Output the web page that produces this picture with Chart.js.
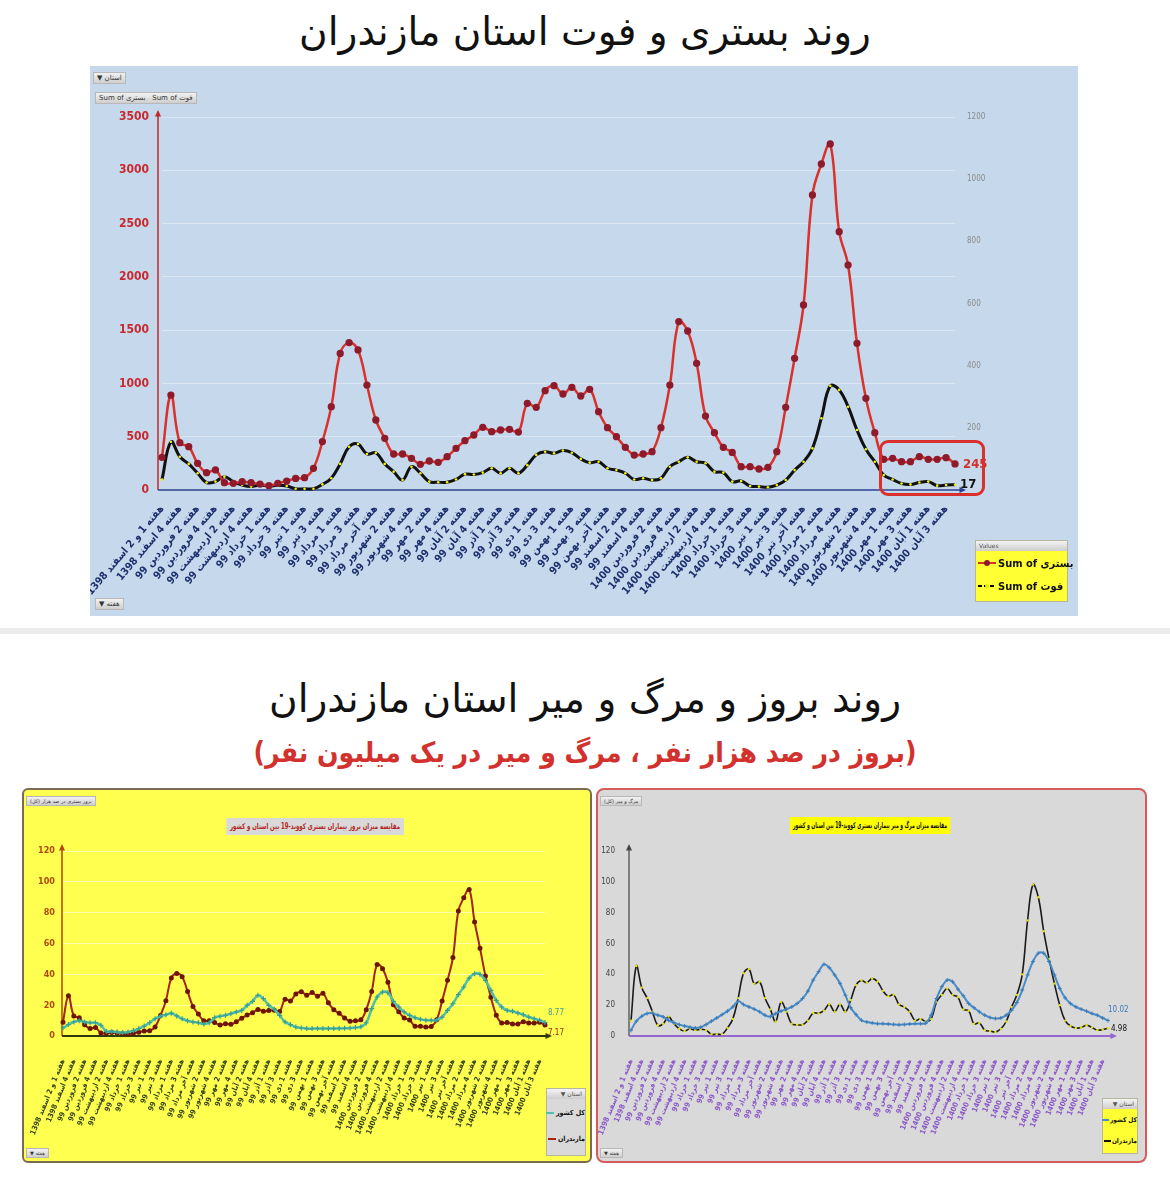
<!DOCTYPE html>
<html lang="fa">
<head>
<meta charset="utf-8">
<title>روند بستری و فوت استان مازندران</title>
<script src="https://cdn.jsdelivr.net/npm/chart.js@4.4.1/dist/chart.umd.min.js"></script>
<style>
  body { margin:0; background:#fff; width:1170px; height:1184px; position:relative; overflow:hidden; font-family:"DejaVu Sans", sans-serif; }
  .abs { position:absolute; }
  .title { position:absolute; left:0; width:1170px; text-align:center; direction:rtl; white-space:nowrap; }
  #t1 { top:9px; font-size:39px; color:#111; }
  #t2 { top:676px; font-size:39px; color:#111; }
  #t3 { top:736px; font-size:28px; font-weight:bold; color:#d2312d; font-family:"DejaVu Sans Condensed","DejaVu Sans"; }
  #sep { left:0; top:628px; width:1170px; height:6px; background:#ececec; }
  #panelTop { left:90px; top:66px; width:988px; height:550px; background:#c6d9ec; }
  #panelL { left:22px; top:788px; width:570px; height:375px; background:#ffff50; border:2px solid #7d6a52; border-radius:6px; box-sizing:border-box; }
  #panelR { left:596px; top:788px; width:551px; height:375px; background:#d9d9d9; border:2px solid #d45c5c; border-radius:8px; box-sizing:border-box; }
  canvas { position:absolute; }
  .btn { position:absolute; background:linear-gradient(#f2f2f2,#cfcfcf); border:1px solid #b8b8b8; color:#333; font-size:7px; line-height:10px; padding:0 3px; white-space:nowrap; direction:rtl; }
  .ctitle { position:absolute; white-space:nowrap; direction:rtl; font:bold 8px "DejaVu Sans Condensed","DejaVu Sans"; padding:4px 5px; }
  .leg { position:absolute; border:1px solid #b5b5a0; }
  .leg .hd { height:10px; background:linear-gradient(#f4f4f4,#cdcdcd); font-size:6px; color:#555; line-height:10px; padding:0 3px; }
  .item { display:flex; align-items:center; white-space:nowrap; font:bold 11px "DejaVu Sans Condensed","DejaVu Sans"; color:#111; }
  .mk { width:18px; height:2px; position:relative; margin-right:2px; flex:none; }
  .mk i { position:absolute; left:6px; top:-2px; width:6px; height:6px; border-radius:50%; }
</style>
</head>
<body>

<div id="t1" class="title">روند بستری و فوت استان مازندران</div>
<div id="panelTop" class="abs"></div>
<div class="btn" style="left:93px;top:72px;">استان ▼</div>
<div class="btn" style="left:95px;top:92px;direction:ltr;">Sum of بستری &nbsp; Sum of فوت</div>
<div class="btn" style="left:95px;top:598px;">هفته ▼</div>
<canvas id="chartTop" width="988" height="550" style="left:90px;top:66px;"></canvas>
<div class="abs" style="left:879px;top:440px;width:106px;height:56px;border:3px solid #d9302c;border-radius:9px;box-sizing:border-box;"></div>
<div class="leg" style="left:975px;top:540px;width:91px;height:60px;background:#ffff33;">
  <div class="hd">Values</div>
  <div class="item" style="height:24px;direction:ltr;padding-left:2px;"><span class="mk" style="background:#d9312b;"><i style="background:#8e1b2c;"></i></span>Sum of بستری</div>
  <div class="item" style="height:22px;direction:ltr;padding-left:2px;"><span class="mk" style="background:repeating-linear-gradient(90deg,#000 0 4px,transparent 4px 6px);"><i style="background:#e8e800;width:4px;height:4px;top:-1px;left:7px;"></i></span>Sum of فوت</div>
</div>

<div id="sep" class="abs"></div>
<div id="t2" class="title">روند بروز و مرگ و میر استان مازندران</div>
<div id="t3" class="title">(بروز در صد هزار نفر ، مرگ و میر در یک میلیون نفر)</div>

<div id="panelL" class="abs"></div>
<div class="btn" style="left:26px;top:796px;font-size:5px;line-height:8px;">بروز بستری در صد هزار (کل)</div>
<div class="btn" style="left:26px;top:1148px;font-size:5px;line-height:8px;">هفته ▼</div>
<div class="ctitle" style="left:315px;top:818px;background:#d9d9d9;color:#b3261e;transform:translateX(-50%) scaleX(0.75);">مقایسه میزان بروز بیماران بستری کووید-19 بین استان و کشور</div>
<canvas id="chartL" width="566" height="371" style="left:24px;top:790px;"></canvas>
<div class="leg" style="left:546px;top:1088px;width:38px;height:66px;background:#d9d9d9;">
  <div class="hd" style="direction:rtl;">استان ▼</div>
  <div class="item" style="height:27px;direction:rtl;font-size:7px;">کل کشور<span class="mk" style="width:8px;background:#4fbfae;margin:0 2px 0 0;"></span></div>
  <div class="item" style="height:25px;direction:rtl;font-size:7px;">مازندران<span class="mk" style="width:8px;background:#a3240f;margin:0 2px 0 0;"></span></div>
</div>

<div id="panelR" class="abs"></div>
<div class="btn" style="left:600px;top:796px;font-size:5px;line-height:8px;">مرگ و میر (کل)</div>
<div class="btn" style="left:600px;top:1148px;font-size:5px;line-height:8px;">هفته ▼</div>
<div class="ctitle" style="left:870px;top:817px;background:#ffff00;color:#111;transform:translateX(-50%) scaleX(0.62);">مقایسه میزان مرگ و میر بیماران بستری کووید-19 بین استان و کشور</div>
<canvas id="chartR" width="547" height="371" style="left:598px;top:790px;"></canvas>
<div class="leg" style="left:1102px;top:1098px;width:34px;height:54px;background:#ffff33;">
  <div class="hd" style="direction:rtl;">استان ▼</div>
  <div class="item" style="height:22px;direction:rtl;font-size:6.5px;">کل کشور<span class="mk" style="width:7px;background:#4a8cc8;margin:0 1px 0 0;"></span></div>
  <div class="item" style="height:20px;direction:rtl;font-size:6.5px;">مازندران<span class="mk" style="width:7px;background:#111;margin:0 1px 0 0;"></span></div>
</div>

<script>
// weeks (only every other one is printed on the axis)
const weeks = [
  "هفته 1 و 2 اسفند 1398", "هفته 3 اسفند 1398", "هفته 4 اسفند 1398", "هفته 1 فروردین 99", "هفته 2 فروردین 99",
  "هفته 3 فروردین 99", "هفته 4 فروردین 99", "هفته 1 اردیبهشت 99", "هفته 2 اردیبهشت 99", "هفته 3 اردیبهشت 99",
  "هفته 4 اردیبهشت 99", "هفته آخر اردیبهشت 99", "هفته 1 خرداد 99", "هفته 2 خرداد 99", "هفته 3 خرداد 99",
  "هفته 4 خرداد 99", "هفته 1 تیر 99", "هفته 2 تیر 99", "هفته 3 تیر 99", "هفته 4 تیر 99",
  "هفته 1 مرداد 99", "هفته 2 مرداد 99", "هفته 3 مرداد 99", "هفته 4 مرداد 99", "هفته آخر مرداد 99",
  "هفته 1 شهریور 99", "هفته 2 شهریور 99", "هفته 3 شهریور 99", "هفته 4 شهریور 99", "هفته 1 مهر 99",
  "هفته 2 مهر 99", "هفته 3 مهر 99", "هفته 4 مهر 99", "هفته 1 آبان 99", "هفته 2 آبان 99",
  "هفته 3 آبان 99", "هفته 4 آبان 99", "هفته آخر آبان 99", "هفته 1 آذر 99", "هفته 2 آذر 99",
  "هفته 3 آذر 99", "هفته 4 آذر 99", "هفته 1 دی 99", "هفته 2 دی 99", "هفته 3 دی 99",
  "هفته 4 دی 99", "هفته 1 بهمن 99", "هفته 2 بهمن 99", "هفته 3 بهمن 99", "هفته 4 بهمن 99",
  "هفته آخر بهمن 99", "هفته 1 اسفند 99", "هفته 2 اسفند 99", "هفته 3 اسفند 99", "هفته 4 اسفند 99",
  "هفته 1 فروردین 1400", "هفته 2 فروردین 1400", "هفته 3 فروردین 1400", "هفته 4 فروردین 1400", "هفته 1 اردیبهشت 1400",
  "هفته 2 اردیبهشت 1400", "هفته 3 اردیبهشت 1400", "هفته 4 اردیبهشت 1400", "هفته آخر اردیبهشت 1400", "هفته 1 خرداد 1400",
  "هفته 2 خرداد 1400", "هفته 3 خرداد 1400", "هفته 4 خرداد 1400", "هفته 1 تیر 1400", "هفته 2 تیر 1400",
  "هفته 3 تیر 1400", "هفته 4 تیر 1400", "هفته آخر تیر 1400", "هفته 1 مرداد 1400", "هفته 2 مرداد 1400",
  "هفته 3 مرداد 1400", "هفته 4 مرداد 1400", "هفته 1 شهریور 1400", "هفته 2 شهریور 1400", "هفته 3 شهریور 1400",
  "هفته 4 شهریور 1400", "هفته آخر شهریور 1400", "هفته 1 مهر 1400", "هفته 2 مهر 1400", "هفته 3 مهر 1400",
  "هفته 4 مهر 1400", "هفته 1 آبان 1400", "هفته 2 آبان 1400", "هفته 3 آبان 1400", "هفته 4 آبان 1400"
];

// Sum of بستری (left axis)
const hospMaz = [
  307, 891, 444, 407, 250, 163, 188, 69, 63, 78,
  69, 56, 41, 63, 84, 109, 116, 203, 454, 782,
  1282, 1383, 1314, 985, 657, 485, 338, 338, 297, 241,
  272, 260, 313, 391, 463, 516, 588, 547, 563, 569,
  544, 813, 776, 932, 979, 901, 963, 882, 945, 735,
  585, 500, 400, 328, 338, 360, 585, 985, 1580, 1492,
  1189, 694, 538, 400, 353, 219, 219, 197, 213, 360,
  776, 1236, 1736, 2768, 3059, 3247, 2424, 2111, 1376, 860,
  538, 288, 297, 266, 266, 313, 288, 288, 303, 245
];
// Sum of فوت (right axis)
const deathMaz = [
  34, 155, 107, 84, 54, 24, 27, 43, 27, 16,
  11, 16, 13, 15, 13, 4, 4, 4, 18, 38,
  84, 139, 148, 116, 120, 84, 59, 32, 75, 54,
  27, 25, 25, 34, 51, 50, 56, 70, 54, 70,
  54, 80, 113, 123, 118, 127, 120, 100, 88, 91,
  70, 64, 54, 34, 38, 32, 38, 75, 91, 105,
  91, 86, 59, 56, 27, 29, 13, 11, 9, 16,
  32, 64, 91, 134, 231, 335, 322, 268, 193, 131,
  91, 48, 34, 21, 18, 24, 27, 14, 16, 17
];

// incidence per 100k: کل کشور / مازندران
const hospRateIran = [
  5.2, 7.4, 9.1, 9.9, 9.1, 8.6, 8.6, 6.9, 3.0, 3.0,
  2.6, 2.2, 2.6, 3.5, 4.8, 6.5, 8.6, 11.2, 12.8, 13.8,
  14.7, 13.0, 11.2, 9.9, 9.1, 8.6, 7.8, 8.6, 11.9, 12.8,
  13.4, 14.5, 15.6, 16.6, 19.9, 22.5, 26.4, 24.2, 19.9, 17.3,
  13.4, 9.1, 7.4, 5.8, 5.2, 4.8, 4.8, 4.8, 4.8, 4.8,
  4.8, 4.9, 5.0, 5.2, 5.5, 6.0, 8.6, 17.7, 25.3, 28.5,
  28.1, 22.5, 18.8, 15.6, 13.4, 11.9, 10.8, 10.2, 10.2, 10.2,
  12.3, 16.6, 21.0, 26.8, 31.8, 37.6, 40.4, 40.0, 36.1, 29.6,
  23.1, 18.8, 16.6, 16.0, 14.9, 13.8, 12.3, 11.2, 10.2, 8.77
];
const hospRateMaz = [
  9.0, 26.1, 13.0, 11.9, 7.3, 4.8, 5.5, 2.0, 1.8, 2.3,
  2.0, 1.6, 1.2, 1.8, 2.5, 3.2, 3.4, 5.9, 13.3, 22.9,
  37.6, 40.5, 38.5, 28.9, 19.2, 14.2, 9.9, 9.9, 8.7, 7.1,
  8.0, 7.6, 9.2, 11.5, 13.6, 15.1, 17.2, 16.0, 16.5, 16.7,
  15.9, 23.8, 22.7, 27.3, 28.7, 26.4, 28.2, 25.8, 27.7, 21.5,
  17.1, 14.7, 11.7, 9.6, 9.9, 10.5, 17.1, 28.9, 46.3, 43.7,
  34.8, 20.3, 15.8, 11.7, 10.3, 6.4, 6.4, 5.8, 6.2, 10.5,
  22.7, 36.2, 50.9, 81.1, 89.6, 95.1, 74.0, 57.0, 39.0, 25.2,
  13.5, 8.4, 8.7, 7.8, 7.8, 9.2, 8.4, 8.4, 8.9, 7.17
];

// deaths per million: کل کشور / مازندران
const deathRateIran = [
  3.7, 9.6, 12.8, 14.6, 14.8, 13.5, 12.4, 10.2, 8.7, 7.4,
  6.5, 5.7, 5.2, 5.7, 7.4, 9.6, 11.7, 13.9, 16.1, 18.9,
  22.6, 20.4, 18.9, 17.4, 15.7, 13.5, 12.6, 14.6, 16.1, 17.4,
  18.9, 21.1, 24.3, 29.1, 36.3, 41.7, 46.5, 44.3, 39.6, 34.1,
  26.5, 18.3, 13.9, 10.2, 9.1, 8.5, 8.0, 8.0, 7.8, 7.5,
  7.3, 7.5, 7.8, 8.0, 8.0, 8.3, 13.5, 24.3, 32.0, 36.3,
  35.2, 30.4, 26.1, 21.1, 18.3, 15.7, 13.5, 12.0, 11.3, 11.7,
  13.5, 16.7, 21.7, 29.8, 39.6, 48.3, 53.7, 53.7, 48.3, 39.6,
  30.9, 24.8, 21.1, 18.9, 17.4, 16.1, 14.6, 13.5, 11.7, 10.02
];
const deathRateMaz = [
  10.0, 45.4, 31.4, 24.6, 15.8, 7.0, 7.9, 12.6, 7.9, 4.7,
  3.2, 4.7, 3.8, 4.4, 3.8, 1.2, 1.2, 1.2, 5.3, 11.1,
  24.6, 40.7, 43.4, 34.0, 35.2, 24.6, 17.3, 9.4, 22.0, 15.8,
  7.9, 7.3, 7.3, 10.0, 14.9, 14.7, 16.4, 20.5, 15.8, 20.5,
  15.8, 23.4, 33.1, 36.0, 34.6, 37.2, 35.2, 29.3, 25.8, 26.7,
  20.5, 18.8, 15.8, 10.0, 11.1, 9.4, 11.1, 22.0, 26.7, 30.8,
  26.7, 25.2, 17.3, 16.4, 7.9, 8.5, 3.8, 3.2, 2.6, 4.7,
  9.4, 18.8, 26.7, 40.0, 75.0, 98.2, 90.0, 68.0, 50.0, 34.0,
  20.0, 10.0, 6.5, 5.2, 5.5, 7.0, 5.5, 3.8, 4.2, 4.98
];

const condensed = "'DejaVu Sans Condensed', 'DejaVu Sans', sans-serif";
Chart.defaults.font.family = condensed;

function arrowHead(ctx, x, y, dir, s) {
  ctx.beginPath();
  if (dir === 'up') {
    ctx.moveTo(x, y - s); ctx.lineTo(x - s * 0.6, y + s * 0.3); ctx.lineTo(x + s * 0.6, y + s * 0.3);
  } else {
    ctx.moveTo(x + s, y); ctx.lineTo(x - s * 0.3, y - s * 0.6); ctx.lineTo(x - s * 0.3, y + s * 0.6);
  }
  ctx.closePath();
  ctx.fill();
}

// axis lines with arrows + value label at the end of each line
const axisDecor = {
  id: 'axisDecor',
  beforeDatasetsDraw(chart, args, o) {
    if (!o || !o.yColor) return;
    const a = chart.chartArea, ctx = chart.ctx;
    const x0 = a.left - (o.yGap || 0);
    ctx.save();
    ctx.lineWidth = o.yWidth || 1.5;
    ctx.strokeStyle = ctx.fillStyle = o.yColor;
    ctx.beginPath(); ctx.moveTo(x0, a.bottom); ctx.lineTo(x0, a.top - 2); ctx.stroke();
    arrowHead(ctx, x0, a.top - 2, 'up', 5);
    ctx.lineWidth = o.xWidth || 1.5;
    ctx.strokeStyle = ctx.fillStyle = o.xColor;
    ctx.beginPath(); ctx.moveTo(x0, a.bottom); ctx.lineTo(a.right + (o.xExtra || 4), a.bottom); ctx.stroke();
    arrowHead(ctx, a.right + (o.xExtra || 4), a.bottom, 'right', 5);
    ctx.restore();
  },
  afterDatasetsDraw(chart, args, o) {
    if (!o || !o.endLabels) return;
    const ctx = chart.ctx;
    ctx.save();
    o.endLabels.forEach(l => {
      const meta = chart.getDatasetMeta(l.ds);
      const p = meta.data[meta.data.length - 1];
      ctx.fillStyle = l.color;
      ctx.font = l.font;
      ctx.textBaseline = 'middle';
      ctx.textAlign = 'left';
      ctx.fillText(l.text, p.x + l.dx, p.y + l.dy);
    });
    ctx.restore();
  }
};
Chart.register(axisDecor);

function everyOther(val, idx) {
  return idx % 2 === 0 ? weeks[idx] : '';
}
function plainNumber(v) { return String(v); }

// fixes the plot rectangle inside the canvas
function fixWidth(w) { return s => { s.width = w; s.paddingTop = 0; s.paddingBottom = 0; }; }
function fixHeight(h) { return s => { s.height = h; s.paddingLeft = 0; s.paddingRight = 0; }; }

// ---- top chart: hospitalised and deaths
new Chart(document.getElementById('chartTop'), {
  type: 'line',
  data: {
    labels: weeks,
    datasets: [{
      label: 'Sum of بستری',
      data: hospMaz,
      yAxisID: 'y',
      borderColor: '#d9312b',
      borderWidth: 2.5,
      pointRadius: 2.4,
      pointBackgroundColor: '#8e1b2c',
      pointBorderColor: '#8e1b2c',
      tension: 0.4,
      clip: false
    }, {
      label: 'Sum of فوت',
      data: deathMaz,
      yAxisID: 'y1',
      borderColor: '#111',
      borderWidth: 3,
      pointRadius: 1.3,
      pointBorderWidth: 0,
      pointBackgroundColor: '#f2f200',
      tension: 0.4,
      clip: false
    }]
  },
  options: {
    responsive: false,
    animation: false,
    devicePixelRatio: 1,
    layout: { padding: { top: 51, left: 0, right: 0, bottom: 0 } },
    plugins: {
      legend: { display: false },
      tooltip: { enabled: false },
      axisDecor: {
        yColor: '#c0272d', yGap: 4, yWidth: 1.5,
        xColor: '#2b3f8f', xWidth: 1.5, xExtra: 6,
        endLabels: [
          { ds: 0, text: '245', color: '#d2312d', font: "bold 13px " + condensed, dx: 8, dy: 1 },
          { ds: 1, text: '17', color: '#111', font: "bold 13px " + condensed, dx: 5, dy: 0 }
        ]
      }
    },
    scales: {
      x: {
        afterFit: fixHeight(126),
        grid: { display: false },
        border: { display: false },
        ticks: {
          autoSkip: false, minRotation: 50, maxRotation: 50, padding: 5,
          color: '#1c2f6e', font: { size: 10.5, weight: 'bold' },
          callback: everyOther
        }
      },
      y: {
        position: 'left',
        min: 0, max: 3500,
        afterFit: fixWidth(72),
        grid: { color: 'rgba(255,255,255,0.35)', drawTicks: false },
        border: { display: false },
        ticks: { stepSize: 500, padding: 13, color: '#c8282e', font: { size: 12, weight: 'bold' }, callback: plainNumber }
      },
      y1: {
        position: 'right',
        min: 0, max: 1200,
        afterFit: fixWidth(123),
        grid: { display: false },
        border: { display: false },
        ticks: {
          stepSize: 200, padding: 4, color: '#8a8a8a', font: { size: 8 },
          callback: v => v === 0 ? '' : String(v)
        }
      }
    }
  }
});

// ---- bottom left: incidence per 100k
new Chart(document.getElementById('chartL'), {
  type: 'line',
  data: {
    labels: weeks,
    datasets: [{
      label: 'کل کشور',
      data: hospRateIran,
      borderColor: '#4fbfae',
      borderWidth: 2.5,
      pointStyle: 'cross',
      pointRadius: 2.5,
      pointBorderWidth: 1.2,
      pointBorderColor: '#3a9f90',
      tension: 0.4,
      clip: false
    }, {
      label: 'مازندران',
      data: hospRateMaz,
      borderColor: '#a3240f',
      borderWidth: 2,
      pointRadius: 1.5,
      pointBackgroundColor: '#6e1408',
      pointBorderColor: '#6e1408',
      tension: 0.4,
      clip: false
    }]
  },
  options: {
    responsive: false,
    animation: false,
    devicePixelRatio: 1,
    layout: { padding: { top: 61, left: 0, right: 45, bottom: 0 } },
    plugins: {
      legend: { display: false },
      tooltip: { enabled: false },
      axisDecor: {
        yColor: '#b0480c', yGap: 1, yWidth: 1.5,
        xColor: '#2e3a10', xWidth: 2, xExtra: 2,
        endLabels: [
          { ds: 0, text: '8.77', color: '#3a9f90', font: "8px " + condensed, dx: 3, dy: -10 },
          { ds: 1, text: '7.17', color: '#a3240f', font: "8px " + condensed, dx: 3, dy: 8 }
        ]
      }
    },
    scales: {
      x: {
        afterFit: fixHeight(125),
        grid: { display: false },
        border: { display: false },
        ticks: {
          autoSkip: false, minRotation: 68, maxRotation: 68, padding: 14,
          color: '#34421a', font: { size: 7.5, weight: 'bold' },
          callback: everyOther
        }
      },
      y: {
        min: 0, max: 120,
        afterFit: fixWidth(39),
        grid: { color: 'rgba(255,255,255,0.55)', drawTicks: false },
        border: { display: false },
        ticks: { stepSize: 20, padding: 8, color: '#b0480c', font: { size: 9, weight: 'bold' } }
      }
    }
  }
});

// ---- bottom right: deaths per million
new Chart(document.getElementById('chartR'), {
  type: 'line',
  data: {
    labels: weeks,
    datasets: [{
      label: 'کل کشور',
      data: deathRateIran,
      borderColor: '#4a8cc8',
      borderWidth: 2,
      pointStyle: 'cross',
      pointRadius: 2,
      pointBorderWidth: 1,
      pointBorderColor: '#3d7cb8',
      tension: 0.4,
      clip: false
    }, {
      label: 'مازندران',
      data: deathRateMaz,
      borderColor: '#1a1a1a',
      borderWidth: 1.6,
      pointRadius: 1.2,
      pointBorderWidth: 0,
      pointBackgroundColor: '#e6e600',
      tension: 0.4,
      clip: false
    }]
  },
  options: {
    responsive: false,
    animation: false,
    devicePixelRatio: 1,
    layout: { padding: { top: 61, left: 0, right: 37, bottom: 0 } },
    plugins: {
      legend: { display: false },
      tooltip: { enabled: false },
      axisDecor: {
        yColor: '#444', yGap: 2, yWidth: 1.2,
        xColor: '#9466cf', xWidth: 2, xExtra: 0,
        endLabels: [
          { ds: 0, text: '10.02', color: '#3d7cb8', font: "8px " + condensed, dx: 0, dy: -11 },
          { ds: 1, text: '4.98', color: '#111', font: "8px " + condensed, dx: 3, dy: 1 }
        ]
      }
    },
    scales: {
      x: {
        afterFit: fixHeight(125),
        grid: { display: false },
        border: { display: false },
        ticks: {
          autoSkip: false, minRotation: 68, maxRotation: 68, padding: 14,
          color: '#8a56c9', font: { size: 7.5, weight: 'bold' },
          callback: everyOther
        }
      },
      y: {
        min: 0, max: 120,
        afterFit: fixWidth(33),
        grid: { display: false },
        border: { display: false },
        ticks: { stepSize: 20, padding: 8, color: '#444', font: { size: 8 } }
      }
    }
  }
});
</script>
</body>
</html>
